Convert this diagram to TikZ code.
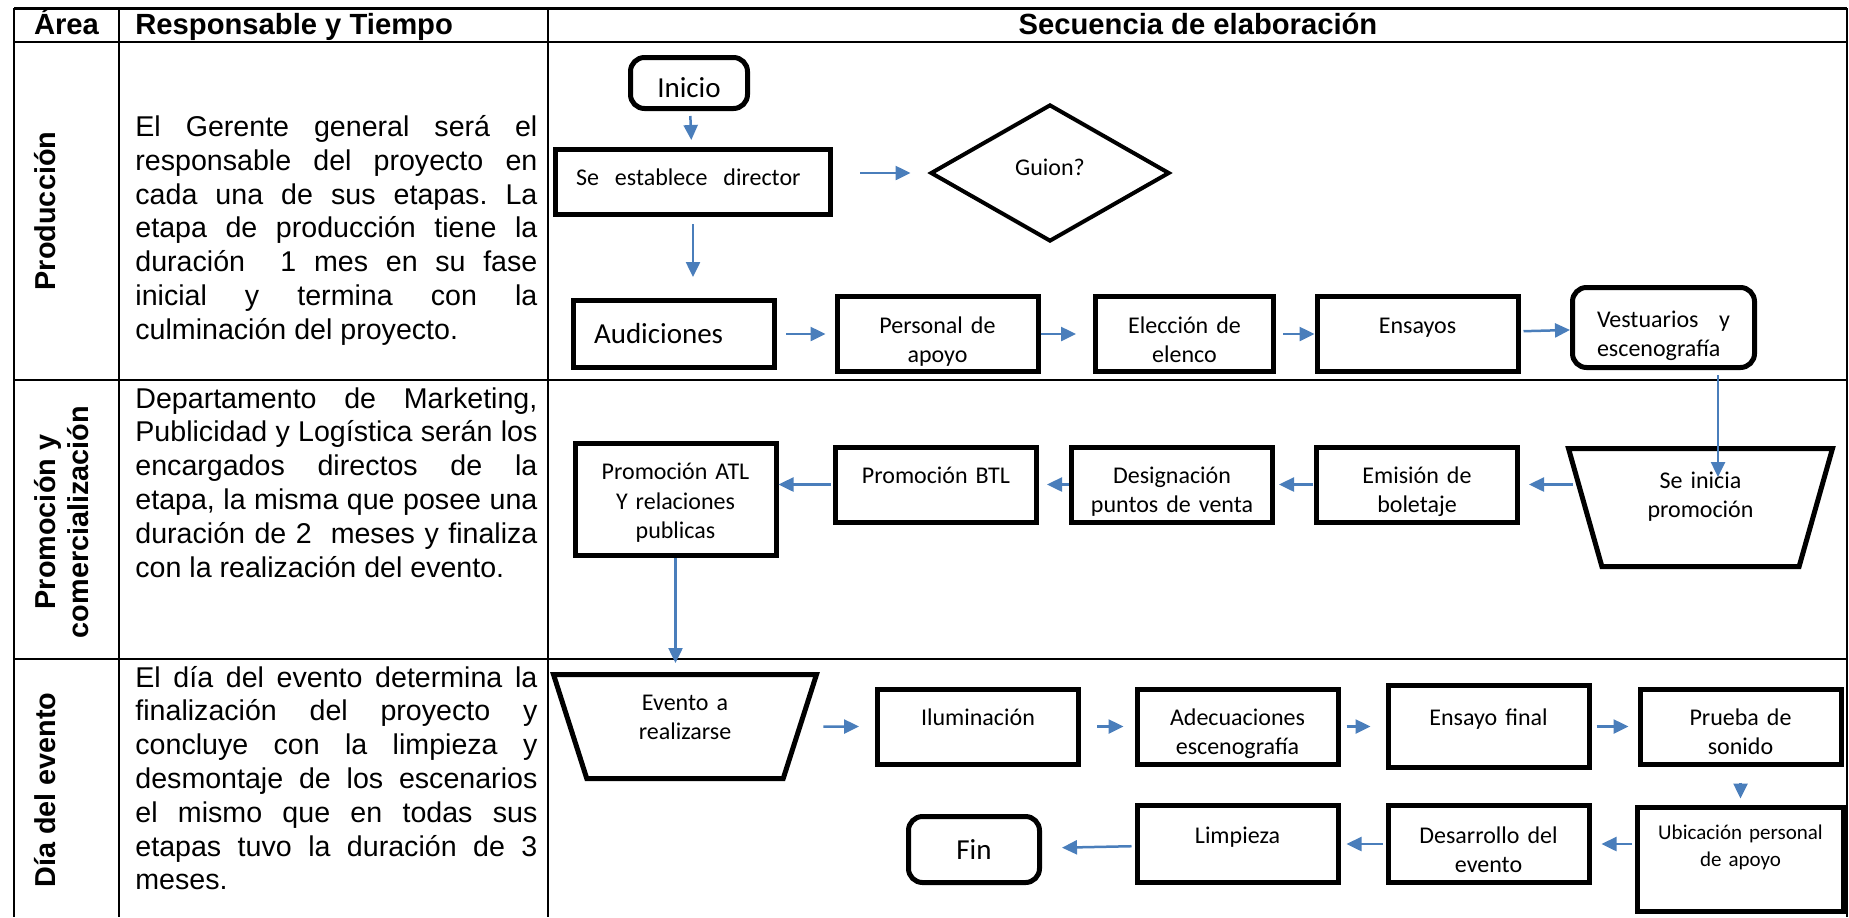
\documentclass[tikz,border=0pt]{standalone}
\usepackage{fontspec}
\setmainfont{Liberation Sans}
\newfontfamily\calibri{Carlito}
\usetikzlibrary{positioning,arrows.meta,shapes.geometric}
\definecolor{azul}{RGB}{74,126,187}
\tolerance=10000
\hbadness=10000
\hyphenpenalty=10000
\frenchspacing

\begin{document}
\begin{tikzpicture}[
    x=0.5pt,y=-0.5pt,
    >={Triangle[length=7.5pt,width=7pt]},
    on grid,
    marco/.style={line width=1pt},
    titulo/.style={font=\bfseries\fontsize{14.6}{17}\selectfont,inner sep=0pt},
    etiqueta/.style={rotate=90,font=\bfseries\fontsize{14.4}{16.5}\selectfont,
		align=center,inner sep=0pt},
    texto/.style={anchor=base west,text width=201pt,align=justify,inner sep=0pt,
		font=\fontsize{14.3}{16.9}\selectfont},
% Flowchart styles
    caja/.style={rectangle,draw,line width=2.5pt,inner sep=0pt,align=center,
		minimum width=100.5pt,minimum height=37.5pt,
		font=\calibri\fontsize{12}{14.6}\selectfont},
    terminal/.style={caja,rounded corners=7pt},
    grande/.style={font=\calibri\fontsize{14.5}{17.5}\selectfont},
    decision/.style={diamond,draw,line width=2pt,inner sep=0pt,
		minimum width=119.5pt,minimum height=68.5pt,
		font=\calibri\fontsize{12}{14.6}\selectfont},
    trapecio/.style={trapezium,draw,line width=2.5pt,shape border rotate=180,
		trapezium stretches body,inner sep=0pt,align=center,text width=60pt,
		font=\calibri\fontsize{12}{14.6}\selectfont},
    sube/.style={text width=88pt,text height=9pt,text depth=#1},
    sube/.default=10pt,
    flecha/.style={->,draw=azul,line width=1.25pt}
    ]

    % Table
    \useasboundingbox (0,0) rectangle (1849,917);
    \draw [marco,line width=1.5pt] (14,8) -- (1847,8);
    \draw [marco] (14,42) -- (1847,42);
    \draw [marco] (14,380) -- (1847,380);
    \draw [marco] (14,659) -- (1847,659);
    \draw [marco] (14,8) -- (14,917);
    \draw [marco] (119,8) -- (119,917);
    \draw [marco] (548,8) -- (548,917);
    \draw [marco] (1847,8) -- (1847,917);

    \node [titulo,anchor=base] (area) at (66.5,34) {Área};
    \node [titulo,anchor=base west] (responsable) at (135,34) {Responsable y Tiempo};
    \node [titulo,anchor=base] (secuencia) at (1198,34) {Secuencia de elaboración};

    \node [etiqueta,anchor=base] (produccion) at (55,211) {Producción};
    \node [etiqueta] (promocion) at (61.5,522) {Promoción y\\comercialización};
    \node [etiqueta,anchor=base] (dia) at (55,790) {Día del evento};

    \node [texto] (resp1) at (135,136.5) {El Gerente general será el\linebreak
      responsable del proyecto en\linebreak cada una de sus etapas. La\linebreak
      etapa de producción tiene la\linebreak duración~ 1 mes en su fase\linebreak
      inicial y termina con la\linebreak culminación del proyecto.};
    \node [texto] (resp2) at (135,408) {Departamento de Marketing,\linebreak
      Publicidad y Logística serán los\linebreak encargados directos de la\linebreak
      etapa, la misma que posee una\linebreak duración de 2~ meses y finaliza\linebreak
      con la realización del evento.};
    \node [texto] (resp3) at (135,687) {El día del evento determina la\linebreak
      finalización del proyecto y\linebreak concluye con la limpieza y\linebreak
      desmontaje de los escenarios\linebreak el mismo que en todas sus\linebreak
      etapas tuvo la duración de 3\linebreak meses.};

    % Place nodes
    \node [terminal,grande,minimum width=58.5pt,minimum height=25.5pt,
      text height=14.5pt,text depth=0pt] (inicio) at (689,83) {Inicio};
    \node [caja,minimum width=137.5pt,minimum height=32.5pt,inner xsep=10.25pt,
      sube=6pt,text width=117pt,align=left] (director) at (693,182) {Se~ establece~ director};
    \node [decision,text height=9pt,text depth=7pt] (guion) at (1050,173) {Guion?};

    \node [caja,grande,minimum height=33.5pt,inner xsep=10.25pt,text width=80pt,
      align=left] (aud) at (674,334) {Audiciones};
    \node [caja,sube,right=131.75pt of aud] (personal) {Personal de\\apoyo};
    \node [caja,sube,minimum width=89pt,right=123.5pt of personal] (eleccion) {Elección de\\elenco};
    \node [caja,sube,right=116.5pt of eleccion] (ensayos) {Ensayos};
    \node [terminal,minimum width=91pt,minimum height=40pt,inner xsep=12.25pt,
      sube=9pt,text width=66.5pt,align=left,right=123pt of ensayos,yshift=3.25pt]
      (vestuarios) {Vestuarios\hfill y\\escenografía};

    \node [trapecio,trapezium angle=66,minimum width=132pt,minimum height=59pt,
      text height=9pt,text depth=28.5pt] (inicia) at (1700.5,507.5) {Se inicia\\promoción};
    \node [caja,sube] (emision) at (1417,484.5) {Emisión de\\boletaje};
    \node [caja,sube,left=122.5pt of emision] (designacion) {Designación\\puntos de venta};
    \node [caja,sube,left=118pt of designacion] (btl) {Promoción BTL};
    \node [caja,sube=28.7pt,minimum height=56pt] (atl) at (675.5,499.5)
      {Promoción ATL\\Y relaciones\\publicas};

    \node [trapecio,trapezium angle=64,minimum width=131.5pt,minimum height=52pt,
      text height=9pt,text depth=25.1pt] (evento) at (685,726.5) {Evento a\\realizarse};
    \node [caja,sube,right=146.5pt of evento] (ilum) {Iluminación};
    \node [caja,sube,right=129.75pt of ilum] (adec) {Adecuaciones\\escenografía};
    \node [caja,sube,minimum height=41pt,right=125.5pt of adec] (ensfinal) {Ensayo final};
    \node [caja,sube,right=126pt of ensfinal] (prueba) {Prueba de\\sonido};
    \node [caja,minimum width=103pt,minimum height=52pt,
      font=\calibri\fontsize{10.5}{13.5}\selectfont,text width=90pt,
      text height=8pt,text depth=27.3pt,below=66.25pt of prueba] (ubicacion)
      {Ubicación personal\\de apoyo};
    \node [caja,sube,minimum height=38.5pt,below=58.75pt of ensfinal] (desarrollo) {Desarrollo del\\evento};
    \node [caja,sube,minimum height=38.5pt,left=125.5pt of desarrollo] (limpieza) {Limpieza};
    \node [terminal,grande,minimum width=65.5pt,minimum height=33pt,
      left=131.75pt of limpieza,yshift=-2.75pt] (fin) {Fin};

    % Draw edges
    \draw [flecha,shorten <=2.5pt,shorten >=3.5pt] (inicio) -- (director);
    \draw [flecha,shorten <=13.5pt,shorten >=9pt] (director.east |- guion.west) -- (guion.west);
    \draw [flecha,shorten <=3.5pt,shorten >=10.5pt] (director.south) -- (director.south |- aud.north);
    \draw [flecha,shorten <=4.5pt,shorten >=4.5pt] (aud) -- (personal);
    \draw [flecha,shorten >=8.5pt] (personal) -- (eleccion);
    \draw [flecha,shorten <=3.5pt] (eleccion) -- (ensayos);
    \draw [flecha,shorten <=1.5pt] (ensayos) -- (vestuarios);
    \draw [flecha,shorten <=2.5pt] ([xshift=27.25pt]vestuarios.south)
      -- ([xshift=8.75pt,yshift=15.25pt]inicia.center);

    \draw [flecha,shorten <=5pt,shorten >=4.5pt] (emision.east -| inicia.west) -- (emision.east);
    \draw [flecha,shorten <=0.5pt,shorten >=2pt] (emision) -- (designacion);
    \draw [flecha,shorten >=4pt] (designacion) -- (btl);
    \draw [flecha,shorten <=1pt] (btl.west) -- (btl.west -| atl.east);
    \draw [flecha,shorten >=4.5pt] (atl.south) -- (atl.south |- evento.north);

    \draw [flecha,shorten <=10.5pt,shorten >=8pt] (evento.east) -- (ilum.west);
    \draw [flecha,shorten <=8pt,shorten >=5.5pt] (ilum) -- (adec);
    \draw [flecha,shorten <=3pt,shorten >=7.5pt] (adec) -- (ensfinal);
    \draw [flecha,shorten <=2.5pt,shorten >=4.5pt] (ensfinal) -- (prueba);
    \draw [flecha,shorten <=8pt,shorten >=3pt] (prueba) -- (ubicacion);
    \draw [flecha,shorten <=1.5pt,shorten >=5pt] (ubicacion.west |- desarrollo.east) -- (desarrollo.east);
    \draw [flecha,shorten <=1.5pt,shorten >=3pt] (desarrollo) -- (limpieza);
    \draw [flecha,shorten <=1.5pt,shorten >=10pt] (limpieza) -- (fin);
\end{tikzpicture}
\end{document}
